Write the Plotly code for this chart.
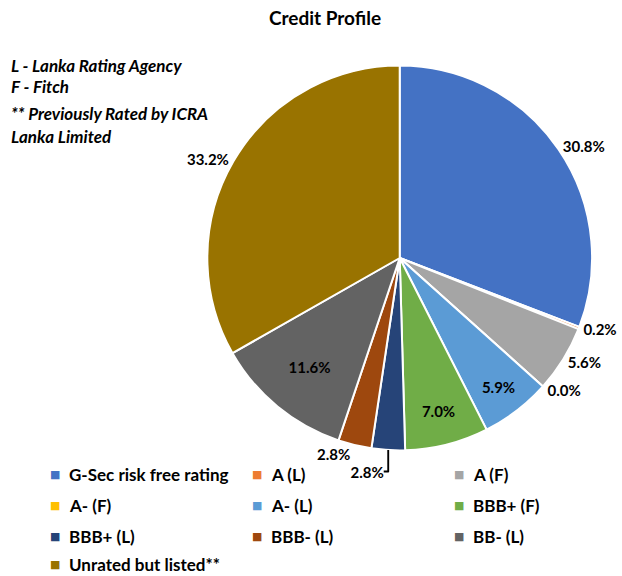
import plotly.graph_objects as go

labels = ["G-Sec risk free rating", "A (L)", "A (F)", "A- (F)", "A- (L)",
          "BBB+ (F)", "BBB+ (L)", "BBB- (L)", "BB- (L)", "Unrated but listed**"]
values = [30.8, 0.2, 5.6, 0.0, 5.9, 7.0, 2.8, 2.8, 11.6, 33.2]
colors = ["#4472C4", "#ED7D31", "#A5A5A5", "#FFC000", "#5B9BD5",
          "#70AD47", "#264478", "#9E480E", "#636363", "#997300"]
positions = ["outside", "outside", "outside", "outside", "inside",
             "inside", "outside", "outside", "inside", "outside"]
notes = ["L - Lanka Rating Agency", "F - Fitch",
         "** Previously Rated by ICRA", "Lanka Limited"]

FONT = "Lato"
W, H = 622, 576

fig = go.Figure(go.Pie(
    labels=labels, values=values, sort=False, direction="clockwise", rotation=0,
    marker=dict(colors=colors, line=dict(color="white", width=2)),
    texttemplate="<b>%{value:.1f}%</b>", textposition=positions,
    textfont=dict(family=FONT, size=15, color="black"),
    insidetextorientation="horizontal",
    domain=dict(x=[208 / W, 594 / W], y=[1 - 451 / H, 1 - 65 / H]),
    showlegend=False, hoverinfo="label+value",
))

ann = []
note_y = [65, 87, 113, 136]
for t, yy in zip(notes, note_y):
    ann.append(dict(text=f"<b><i>{t}</i></b>", x=9 / W, y=1 - yy / H, xref="paper", yref="paper",
                    xanchor="left", yanchor="middle", showarrow=False,
                    font=dict(family=FONT, size=17, color="black")))

col_x = [67, 270, 473]
row_y = [474, 505, 536, 564]
for i, (lab, col) in enumerate(zip(labels, colors)):
    cx = col_x[i % 3]
    ry = row_y[i // 3]
    ann.append(dict(text="■", x=(cx - 5) / W, y=1 - ry / H, xref="paper", yref="paper",
                    xanchor="right", yanchor="middle", showarrow=False,
                    font=dict(family="DejaVu Sans", size=11, color=col)))
    ann.append(dict(text=f"<b>{lab}</b>", x=cx / W, y=1 - ry / H, xref="paper", yref="paper",
                    xanchor="left", yanchor="middle", showarrow=False,
                    font=dict(family=FONT, size=17, color="black")))

fig.update_layout(
    width=W, height=H, margin=dict(l=0, r=0, t=0, b=0),
    paper_bgcolor="white", plot_bgcolor="white",
    title=dict(text="<b>Credit Profile</b>", x=325 / W, xanchor="center", y=1 - 18 / H, yanchor="middle",
               font=dict(family=FONT, size=19, color="black")),
    annotations=ann,
)

fig.write_html("out.html", config={"displayModeBar": False},
               post_script="document.body.style.margin='0px';document.body.style.padding='0px';")
